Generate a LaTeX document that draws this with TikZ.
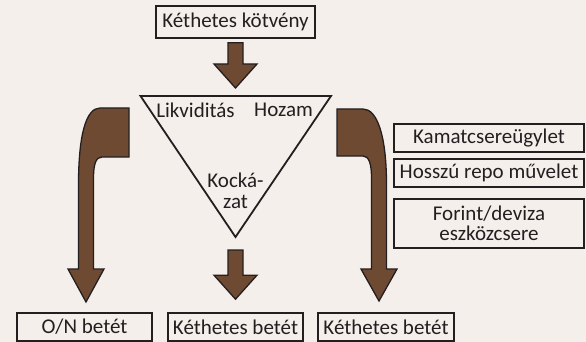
\documentclass[tikz,border=0pt]{standalone}
\usepackage{fontspec}
\setmainfont{Carlito}
\usepackage{tikz}
\usetikzlibrary{positioning, calc}
\definecolor{bgcream}{RGB}{245,239,235}
\definecolor{arrowbrown}{RGB}{111,74,50}
\definecolor{inkdark}{RGB}{35,31,32}

% straight block arrow: #1 top of the shaft, #2 tip
\newcommand{\blockdown}[2]{%
  \draw[blockarrow] let \p1=#1, \p2=#2 in
    (\x1-7.5pt,\y1) -- (\x1+7.5pt,\y1) -- (\x1+7.5pt,\y2+24pt) -- (\x1+21.5pt,\y2+24pt)
    -- (\x1,\y2) -- (\x1-21.5pt,\y2+24pt) -- (\x1-7.5pt,\y2+24pt) -- cycle;}

\begin{document}
\begin{tikzpicture}[x=1pt, y=-1pt,
    box/.style={draw=inkdark, line width=1.6pt, text=inkdark, inner sep=0pt,
        font=\fontsize{21}{20}\selectfont, align=center},
    blockarrow/.style={fill=arrowbrown, draw=inkdark, line width=1.3pt, line join=miter},
    tritext/.style={text=inkdark, inner sep=0pt, font=\fontsize{21}{21}\selectfont}]
    % Background
    \fill[bgcream] (0,0) rectangle (586,342);
    \useasboundingbox (0,0) rectangle (586,342);

    % Bond on top
    \node[box, minimum width=159pt, minimum height=32pt] (kotveny) at (235.5,22) {Kéthetes kötvény};

    % Triangle
    \coordinate (tl) at (140.5,96);
    \coordinate (tr) at (331,96);
    \coordinate (tb) at (235.5,237);
    \coordinate (tri) at (235.5,96);
    \draw[inkdark, line width=1.8pt, line join=miter] (tl) -- (tr) -- (tb) -- cycle;
    \node[tritext] (likv) at (195.5,110) {Likviditás};
    \node[tritext] (hozam) at (283.5,110) {Hozam};
    \node[tritext, align=center] (kock) at (235.5,191) {Kocká-\\zat};

    % Deposits at the bottom
    \node[box, minimum width=135pt, minimum height=28pt] (onbetet) at (84.5,327) {O/N betét};
    \node[box, minimum width=135pt, minimum height=28pt] (betet1) at (235.5,327) {Kéthetes betét};
    \node[box, minimum width=136pt, minimum height=28pt] (betet2) at (386,327) {Kéthetes betét};

    % Instruments on the right
    \node[box, minimum width=190pt, minimum height=28pt] (kamat) at (489,138) {Kamatcsereügylet};
    \node[box, minimum width=190pt, minimum height=28pt] (repo) at (489,173) {Hosszú repo művelet};
    \node[box, minimum width=190pt, minimum height=49pt] (swap) at (489,223.5) {Forint/deviza\\eszközcsere};

    % Straight arrows
    \blockdown{($(kotveny.south)+(0,4)$)}{($(tri)+(0,-8)$)}
    \blockdown{($(tb)+(0,13)$)}{($(betet1.north)+(0,-13)$)}

    % Bent arrow on the left
    \draw[blockarrow] (129,108) -- (100,108)
        .. controls (86,108) and (78.5,135) .. (78.5,185) -- (78.5,269) -- (68,269)
        -- (86,302) -- (104,269) -- (93.5,269) -- (93.5,178)
        .. controls (93.5,164) and (96,157) .. (102,157) -- (129,157) -- cycle;

    % Bent arrow on the right
    \draw[blockarrow] (337,109) -- (363,109)
        .. controls (377,109) and (386.5,135) .. (386.5,185) -- (386.5,269) -- (397,269)
        -- (379,301) -- (361,269) -- (371.5,269) -- (371.5,178)
        .. controls (371.5,164) and (369,156) .. (363,156) -- (337,156) -- cycle;
\end{tikzpicture}
\end{document}
